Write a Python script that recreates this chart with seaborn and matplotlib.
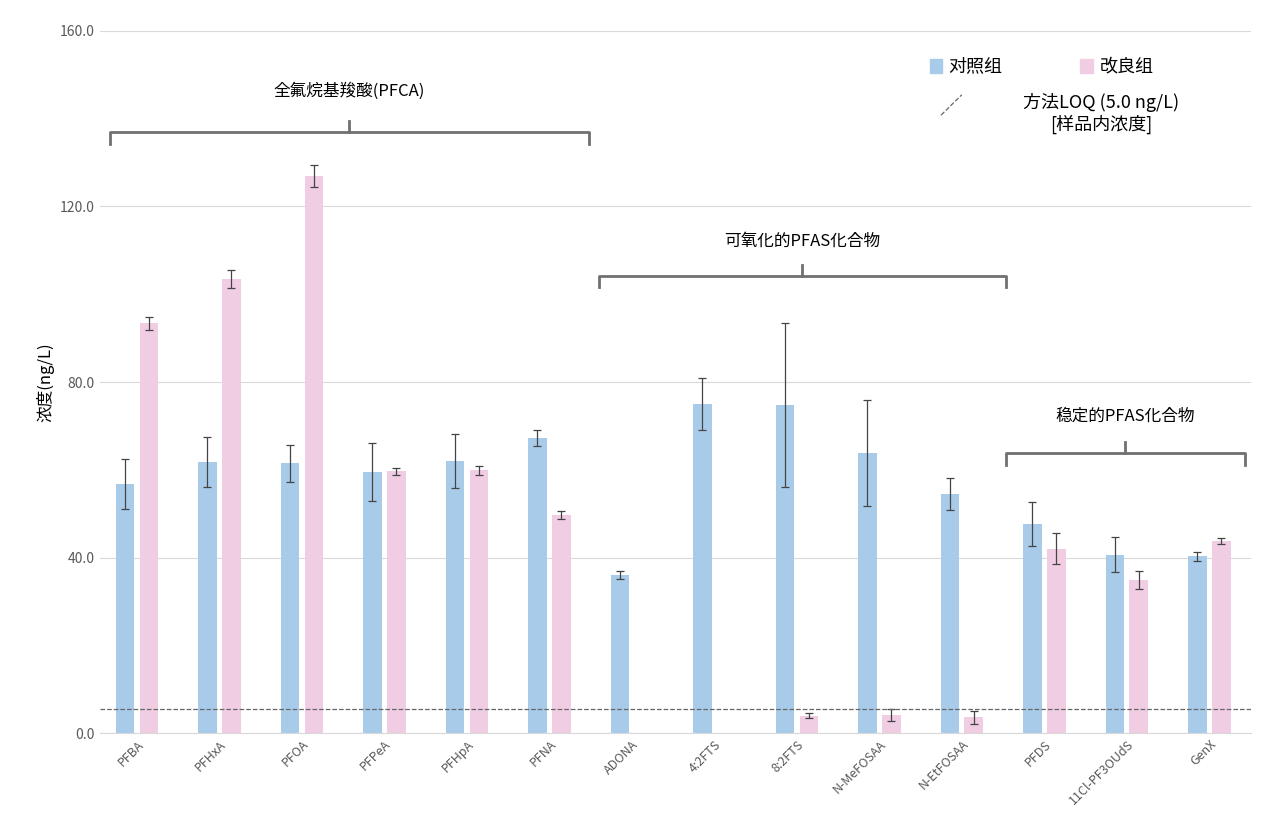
import matplotlib
matplotlib.use("Agg")
import matplotlib.pyplot as plt
import seaborn as sns
import pandas as pd
import numpy as np
from matplotlib.patches import Rectangle
from matplotlib.lines import Line2D

plt.rcParams["font.family"] = "sans-serif"
plt.rcParams["font.sans-serif"] = ["Noto Sans CJK SC", "Noto Sans CJK JP", "DejaVu Sans"]

categories = ["PFBA", "PFHxA", "PFOA", "PFPeA", "PFHpA", "PFNA", "ADONA", "4:2FTS",
              "8:2FTS", "N-MeFOSAA", "N-EtFOSAA", "PFDS", "11Cl-PF3OUdS", "GenX"]
control = [56.7, 61.8, 61.5, 59.5, 62.0, 67.2, 36.0, 75.0, 74.8, 63.8, 54.5, 47.6, 40.6, 40.3]
control_err = [5.7, 5.7, 4.2, 6.6, 6.2, 1.8, 0.9, 6.0, 18.7, 12.0, 3.7, 5.0, 4.0, 1.0]
improved = [93.4, 103.5, 127.0, 59.7, 59.9, 49.7, 0, 0, 4.0, 4.1, 3.6, 42.0, 34.9, 43.8]
improved_err = [1.5, 2.0, 2.5, 0.8, 1.0, 0.8, 0, 0, 0.5, 1.3, 1.5, 3.5, 2.0, 0.6]
loq = 5.5
groups = ["对照组", "改良组"]
colors = ["#a8cbea", "#f0cde3"]

df = pd.DataFrame({
    "cat": categories * 2,
    "val": control + improved,
    "grp": [groups[0]] * len(categories) + [groups[1]] * len(categories),
})

fig = plt.figure(figsize=(12.8, 8.35), dpi=100)
ax = fig.add_axes([0.078, 0.122, 0.899, 0.841])
sns.barplot(data=df, x="cat", y="val", hue="grp", palette=colors, width=0.58,
            errorbar=None, ax=ax, legend=False, gap=0.22, saturation=1)

n = len(categories)
errs = control_err + improved_err
vals = control + improved
for i, p in enumerate(ax.patches[:2 * n]):
    if vals[i] > 0:
        cx = p.get_x() + p.get_width() / 2
        ax.errorbar(cx, vals[i], yerr=errs[i], color="#444444", lw=0.9,
                    capsize=3, capthick=0.9)

ax.axhline(loq, color="#666666", ls="--", lw=0.9)
ax.set_ylim(0, 160)
ax.set_xlim(-0.45, 13.5)
ax.set_yticks([0, 40, 80, 120, 160])
ax.set_yticklabels([f"{v:.1f}" for v in [0, 40, 80, 120, 160]], color="#595959", fontsize=10)
ax.grid(axis="y", color="#d9d9d9", lw=0.8)
ax.set_axisbelow(True)
for s in ["top", "right", "left"]:
    ax.spines[s].set_visible(False)
ax.spines["bottom"].set_color("#d9d9d9")
ax.tick_params(axis="both", length=0)
ax.set_xlabel("")
ax.set_ylabel("浓度(ng/L)", fontsize=12)
plt.setp(ax.get_xticklabels(), rotation=45, ha="right", rotation_mode="anchor",
         fontsize=9, color="#595959")

def bracket(x0, x1, y, label, ly):
    c = "#707070"
    ax.plot([x0, x0, x1, x1], [y - 2.6, y, y, y - 2.6], color=c, lw=2, clip_on=False)
    xm = (x0 + x1) / 2
    ax.plot([xm, xm], [y, y + 2.5], color=c, lw=2, clip_on=False)
    ax.text(xm, ly, label, ha="center", va="center", fontsize=12)

bracket(-0.33, 5.48, 136.9, "全氟烷基羧酸(PFCA)", 146.3)
bracket(5.6, 10.53, 104.2, "可氧化的PFAS化合物", 112.0)
bracket(10.53, 13.43, 63.8, "稳定的PFAS化合物", 72.2)

# legend
ax.add_patch(Rectangle((0.721, 0.940), 0.011, 0.02, transform=ax.transAxes,
                       color=colors[0], clip_on=False))
ax.text(0.737, 0.950, groups[0], transform=ax.transAxes, va="center", fontsize=13)
ax.add_patch(Rectangle((0.852, 0.940), 0.011, 0.02, transform=ax.transAxes,
                       color=colors[1], clip_on=False))
ax.text(0.869, 0.950, groups[1], transform=ax.transAxes, va="center", fontsize=13)
ax.add_line(Line2D([0.731, 0.749], [0.880, 0.909], transform=ax.transAxes,
                   color="#666666", ls="--", lw=0.9))
ax.text(0.870, 0.912, "方法LOQ (5.0 ng/L)\n[样品内浓度]", transform=ax.transAxes,
        ha="center", va="top", fontsize=13, linespacing=1.2)

fig.savefig("out.png", dpi=100)
